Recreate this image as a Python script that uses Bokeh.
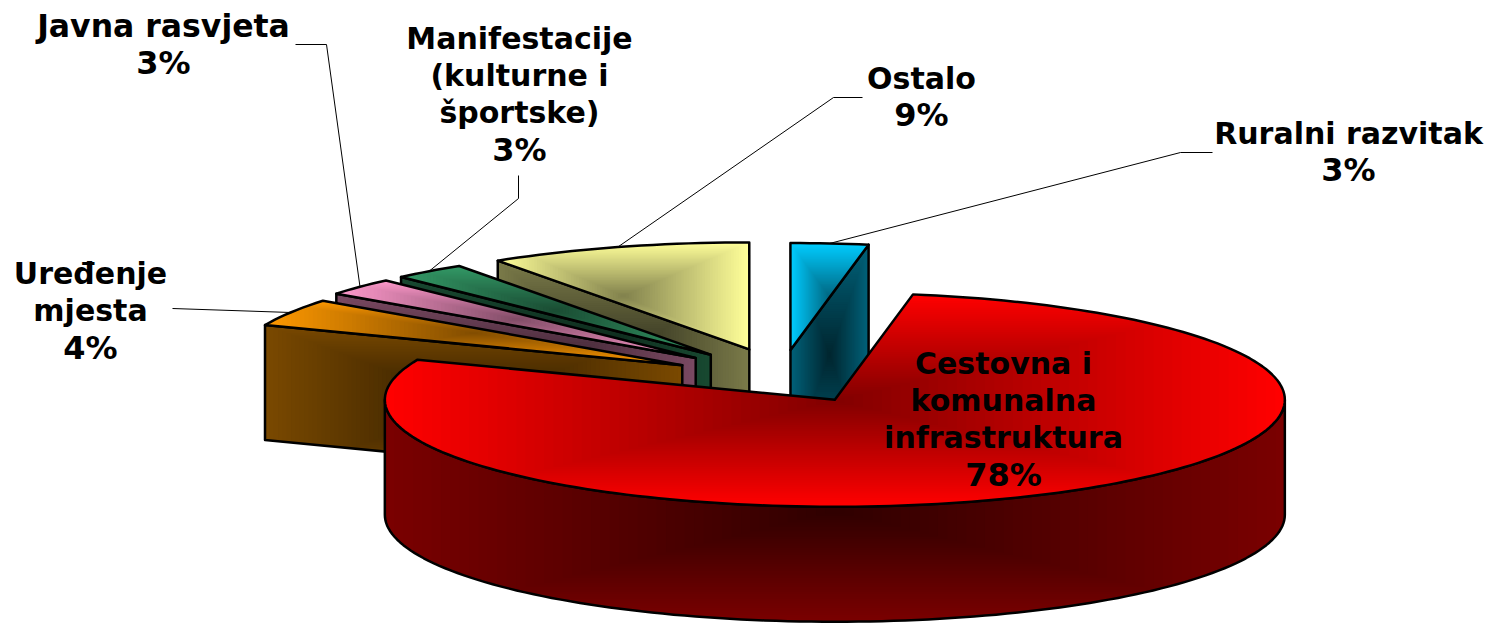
import math
from bokeh.plotting import figure
from bokeh.models import Range1d, ColumnDataSource
from bokeh.core.properties import value
from bokeh.embed import file_html
from bokeh.resources import INLINE

# --- data (clockwise from the first slice) ---
categories = ["Cestovna i\nkomunalna\ninfrastruktura", "Uređenje\nmjesta", "Javna rasvjeta",
              "Manifestacije\n(kulturne i\nšportske)", "Ostalo", "Ruralni razvitak"]
shares = [78.33, 4.17, 2.64, 2.64, 9.44, 2.78]
percent_labels = ["78%", "4%", "3%", "3%", "9%", "3%"]

# --- styling ---
base_colors = ["#ff0000", "#ff9900", "#ff99cc", "#339966", "#ffff99", "#00ccff"]
explode = [110, 114, 115, 113, 110, 103]
lift = [0, 3.5, 1.5, 1, 0, 0]

# --- layout (page pixels) ---
W, H = 1490, 624
CX, CY, K = 781, 375.2, 0.25
RX, RY, DEPTH = 450, 107, 115
START = 10.0
LEVELS = 48
label_pos = [(1003, 362.5), (90, 272.5), (163, 25), (519, 37.5), (921, 77.5), (1348, 132.5)]
name_size = ["30px", "30px", "31.5px", "30px", "30px", "30px"]
pct_size = "32px"
LINE_H = 37.3
leader_via = [None,
              [(172, 308)],
              [(326, 44), (295, 44)],
              [(518, 198), (518, 175)],
              [(833, 97), (862, 97)],
              [(1180, 152), (1212, 152)]]

p = figure(width=W, height=H, x_range=Range1d(0, W), y_range=Range1d(H, 0),
           output_backend="svg", toolbar_location=None, min_border=0,
           outline_line_color=None, background_fill_color="white", border_fill_color="white")
p.xaxis.visible = False
p.yaxis.visible = False
p.grid.visible = False


def shade(hex_col, f):
    r, g, b = int(hex_col[1:3], 16), int(hex_col[3:5], 16), int(hex_col[5:7], 16)
    return "#%02x%02x%02x" % (round(r * f), round(g * f), round(b * f))


def mix(c0, c1, t):
    a = [int(c0[i:i + 2], 16) for i in (1, 3, 5)]
    b = [int(c1[i:i + 2], 16) for i in (1, 3, 5)]
    return "#%02x%02x%02x" % tuple(round(u + (v - u) * t) for u, v in zip(a, b))


def clip_half(pts, inside, cross):
    out = []
    for i, q in enumerate(pts):
        prev = pts[i - 1]
        if inside(q):
            if not inside(prev):
                out.append(cross(prev, q))
            out.append(q)
        elif inside(prev):
            out.append(cross(prev, q))
    return out


def clip_rect(pts, x0, x1, y0, y1):
    def cx(v):
        return lambda a, b: (v, a[1] + (b[1] - a[1]) * (v - a[0]) / (b[0] - a[0]))

    def cy(v):
        return lambda a, b: (a[0] + (b[0] - a[0]) * (v - a[1]) / (b[1] - a[1]), v)

    for ins, cr in ((lambda q: q[0] >= x0, cx(x0)), (lambda q: q[0] <= x1, cx(x1)),
                    (lambda q: q[1] >= y0, cy(y0)), (lambda q: q[1] <= y1, cy(y1))):
        if not pts:
            break
        pts = clip_half(pts, ins, cr)
    return pts


def face(pts, edge_col, centre_col):
    """Rectangular 'from centre' gradient: nested clips of the face against its scaled bounding box."""
    xs = [q[0] for q in pts]
    ys = [q[1] for q in pts]
    mx, my = (min(xs) + max(xs)) / 2, (min(ys) + max(ys)) / 2
    hw, hh = (max(xs) - min(xs)) / 2, (max(ys) - min(ys)) / 2
    pxs, pys, cols = [], [], []
    for i in range(LEVELS):
        s = 1 - i / LEVELS
        c = clip_rect(pts, mx - hw * s, mx + hw * s, my - hh * s, my + hh * s) if i else pts
        if len(c) < 3:
            continue
        pxs.append([q[0] for q in c])
        pys.append([q[1] for q in c])
        cols.append(mix(centre_col, edge_col, s))
    p.patches(pxs, pys, fill_color=cols, line_color=None)
    p.patch(xs + xs[:1], ys + ys[:1], fill_alpha=0, line_color="black", line_width=2.5, line_join="round")


def rim(ax, ay, deg):
    t = math.radians(deg)
    return ax + RX * math.sin(t), ay - RY * math.cos(t)


# slice angle spans
spans = []
a = START
for v in shares:
    spans.append((a, a + v * 3.6))
    a += v * 3.6

apexes = []
for (a0, a1), e, dy in zip(spans, explode, lift):
    m = math.radians((a0 + a1) / 2)
    apexes.append((CX + e * math.sin(m), CY - e * K * math.cos(m) + dy))


def arc(ax, ay, a0, a1, n=None):
    n = n or max(8, int(abs(a1 - a0) / 1.5))
    return [rim(ax, ay, a0 + (a1 - a0) * i / n) for i in range(n + 1)]


# painter's order: back slices first, big front slice last
for i in [5, 4, 3, 2, 1, 0]:
    ax, ay = apexes[i]
    a0, a1 = spans[i]
    base = base_colors[i]
    top = [(ax, ay)] + arc(ax, ay, a0, a1)
    if i == 0:
        front = arc(ax, ay, 90, 270)
        side = front + [(x, y + DEPTH) for x, y in reversed(front)]
    else:
        edge_deg = a1 if i == 5 else a0
        rx_, ry_ = rim(ax, ay, edge_deg)
        side = [(ax, ay), (rx_, ry_), (rx_, ry_ + DEPTH), (ax, ay + DEPTH)]
    face(side, shade(base, 0.48), shade(base, 0.18))
    face(top, base, shade(base, 0.5))

# leader lines from slice rim to label
for i, via in enumerate(leader_via):
    if via is None:
        continue
    sx, sy = rim(*apexes[i], sum(spans[i]) / 2)
    lx = [sx] + [q[0] for q in via]
    ly = [sy] + [q[1] for q in via]
    p.line(lx, ly, line_color="black", line_width=1)

# labels
tx, ty, tt, ts = [], [], [], []
for k, (name, pct, (lx, ly)) in enumerate(zip(categories, percent_labels, label_pos)):
    lines = name.split("\n") + [pct]
    for j, line in enumerate(lines):
        tx.append(lx)
        ty.append(ly + j * LINE_H)
        tt.append(line)
        ts.append(pct_size if j == len(lines) - 1 else name_size[k])
src = ColumnDataSource(dict(x=tx, y=ty, text=tt, size=ts))
p.text("x", "y", text="text", source=src, text_font=value("DejaVu Sans"), text_font_style="bold",
       text_font_size="size", text_color="black", text_align="center", text_baseline="middle")

open("out.html", "w").write(file_html(p, INLINE))
